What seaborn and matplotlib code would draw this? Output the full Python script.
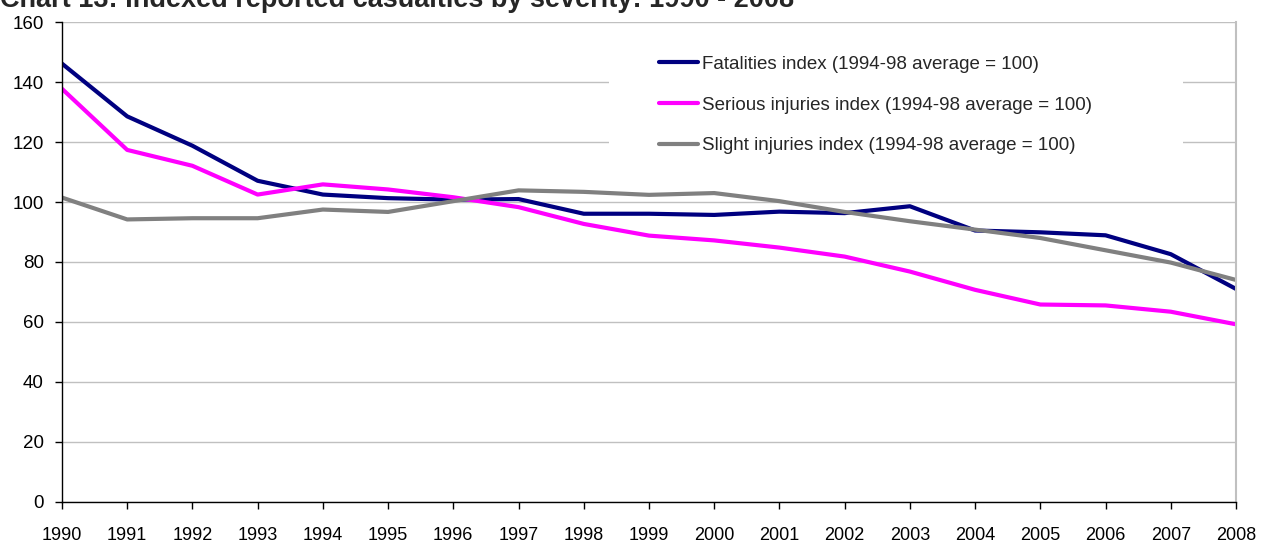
import pandas as pd
import matplotlib.pyplot as plt
import seaborn as sns
from matplotlib.patches import Rectangle

# Estilo base; la fuente se fija después de set_theme
sns.set_theme(style='white')
plt.rcParams['font.family'] = ['Liberation Sans', 'DejaVu Sans']

# --- Datos ---
years = list(range(1990, 2009))
fatalities = [146.2, 128.6, 118.8, 107.1, 102.5, 101.3, 100.8, 101.0, 96.1, 96.1,
              95.7, 96.8, 96.3, 98.6, 90.5, 89.9, 88.9, 82.6, 71.0]
serious = [137.8, 117.4, 112.1, 102.5, 105.9, 104.2, 101.6, 98.3, 92.7, 88.8,
           87.2, 84.8, 81.8, 76.8, 70.7, 65.8, 65.5, 63.4, 59.2]
slight = [101.5, 94.2, 94.6, 94.6, 97.5, 96.7, 100.3, 103.9, 103.4, 102.4,
          103.0, 100.3, 96.7, 93.6, 90.8, 88.0, 83.9, 79.8, 74.0]

labels = ['Fatalities index (1994-98 average = 100)',
          'Serious injuries index (1994-98 average = 100)',
          'Slight injuries index (1994-98 average = 100)']
colores = ['#000080', '#FF00FF', '#808080']

df = pd.DataFrame({
    'Año': years * 3,
    'Indice': fatalities + serious + slight,
    'Serie': [labels[0]] * len(years) + [labels[1]] * len(years) + [labels[2]] * len(years),
})

# --- Figura ---
fig = plt.figure(figsize=(12.62, 5.42), dpi=100)
ax = fig.add_axes([0.0491, 0.0744, 0.9303, 0.8845])

sns.lineplot(data=df, x='Año', y='Indice', hue='Serie', hue_order=labels,
             palette=colores, linewidth=3, ax=ax)

ax.set_xlim(1990, 2008)
ax.set_ylim(0, 160)
ax.set_xticks(years)
ax.set_yticks(range(0, 161, 20))
ax.set_xlabel('')
ax.set_ylabel('')
ax.yaxis.grid(True, color='#C0C0C0', linewidth=1)
ax.set_axisbelow(True)
ax.tick_params(axis='both', colors='black', length=5, width=1,
               direction='out', bottom=True, left=True)
ax.tick_params(axis='x', labelsize=13, pad=13)
ax.tick_params(axis='y', labelsize=13.5, pad=8)

for s in ['left', 'bottom']:
    ax.spines[s].set_color('black')
    ax.spines[s].set_linewidth(1)
ax.spines['top'].set_visible(False)
ax.spines['right'].set_color('#C0C0C0')
ax.spines['right'].set_linewidth(1.5)

# Fondo blanco de la leyenda (tapa la rejilla como en Excel)
ax.add_patch(Rectangle((0.466, 0.67), 0.489, 0.31, transform=ax.transAxes,
                       facecolor='white', edgecolor='none', zorder=1.5))

leg = ax.legend(loc='upper left', bbox_to_anchor=(0.5085, 0.93), fontsize=13.5,
                frameon=False, handlelength=2.08, handletextpad=0.2,
                labelspacing=1.26, borderpad=0, borderaxespad=0)
for line in leg.get_lines():
    line.set_linewidth(3)

# Título recortado arriba como en el original
fig.text(0.0, 1 - 7 / 542, 'Chart 13: Indexed reported casualties by severity: 1990 - 2008',
         fontsize=19.5, fontweight='bold', ha='left', va='baseline')

plt.savefig('out.png', dpi=100)
plt.close()
